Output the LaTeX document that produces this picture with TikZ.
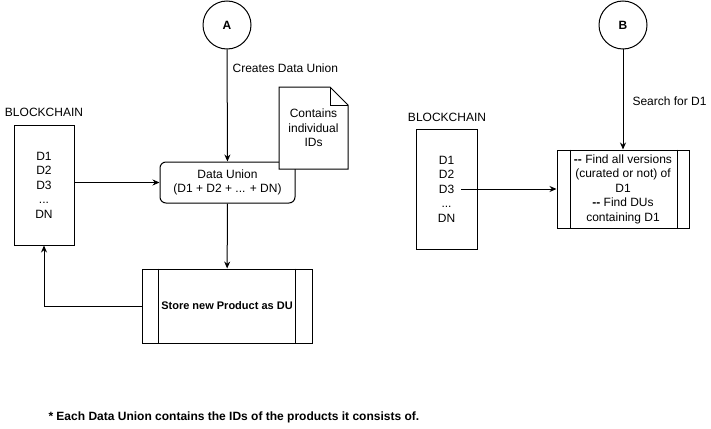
\documentclass[tikz,border=0pt]{standalone}
\usepackage{fontspec}
\setmainfont{Liberation Sans}
\usetikzlibrary{arrows.meta}

\tikzset{
    box/.style={draw, fill=white, inner sep=0pt, align=center},
    arr/.style={-{Stealth[length=7pt,width=6pt]}},
    lbl/.style={inner sep=0pt, align=center},
}

\begin{document}
\begin{tikzpicture}[x=1pt, y=-1pt, line width=1pt, font=\fontsize{12}{14.5}\selectfont]
            \useasboundingbox (0,0) rectangle (711,428);

            % left part
            \node[draw, circle, minimum size=48pt, inner sep=0pt, font=\fontsize{12}{14}\selectfont\bfseries] (A) at (227,25) {A};
            \node[lbl] (chainAlbl) at (44,112) {BLOCKCHAIN};
            \node[box, minimum width=60pt, minimum height=120pt] (chainA) at (44,185) {D1\\D2\\D3\\...\\DN};
            \node[box, rounded corners=6pt, minimum width=135pt, minimum height=41pt] (union) at (227.5,182.5) {Data Union\\(D1 + D2 + ... + DN)};
            \filldraw[fill=white] (279,87) -- (330,87) -- (348,105) -- (348,169) -- (279,169) -- cycle;
            \draw (330,87) -- (330,105) -- (348,105);
            \node[lbl] (note) at (313.5,128) {Contains\\individual\\IDs};
            \node[box, minimum width=170pt, minimum height=74pt, font=\fontsize{11}{13}\selectfont\bfseries] (store) at (227,306) {Store new Product as DU};
            \draw ([xshift=17pt]store.north west) -- ([xshift=17pt]store.south west);
            \draw ([xshift=-17pt]store.north east) -- ([xshift=-17pt]store.south east);

            \draw[arr] (A) -- (union) node[pos=0.17, right=5pt, lbl] {Creates Data Union};
            \draw[arr] (chainA.east |- union) -- (union);
            \draw[arr] (union) -- (store);
            \draw[arr] (store.west) -| (chainA.south);

            % right part
            \node[draw, circle, minimum size=48pt, inner sep=0pt, font=\fontsize{12}{14}\selectfont\bfseries] (B) at (623,25) {B};
            \node[lbl] (chainBlbl) at (447,117) {BLOCKCHAIN};
            \node[box, minimum width=61pt, minimum height=120pt] (chainB) at (446.5,189) {D1\\D2\\D3\\...\\DN};
            \coordinate (d3) at (461,189);
            \node[box, minimum width=132pt, minimum height=78pt] (search) at (623,189)
                {\textbf{-{}-} Find all versions\\(curated or not) of\\D1\\\textbf{-{}-} Find DUs\\containing D1};
            \draw ([xshift=14pt]search.north west) -- ([xshift=14pt]search.south west);
            \draw ([xshift=-12pt]search.north east) -- ([xshift=-12pt]search.south east);

            \draw[arr] (B) -- (search) node[pos=0.52, right=9pt, lbl] {Search for D1};
            \draw[arr] (d3) -- (search.west |- d3);

            % footnote
            \node[lbl, anchor=west, font=\fontsize{12}{14}\selectfont\bfseries] (foot) at (48,417) {* Each Data Union contains the IDs of the products it consists of.};
        \end{tikzpicture}
\end{document}
